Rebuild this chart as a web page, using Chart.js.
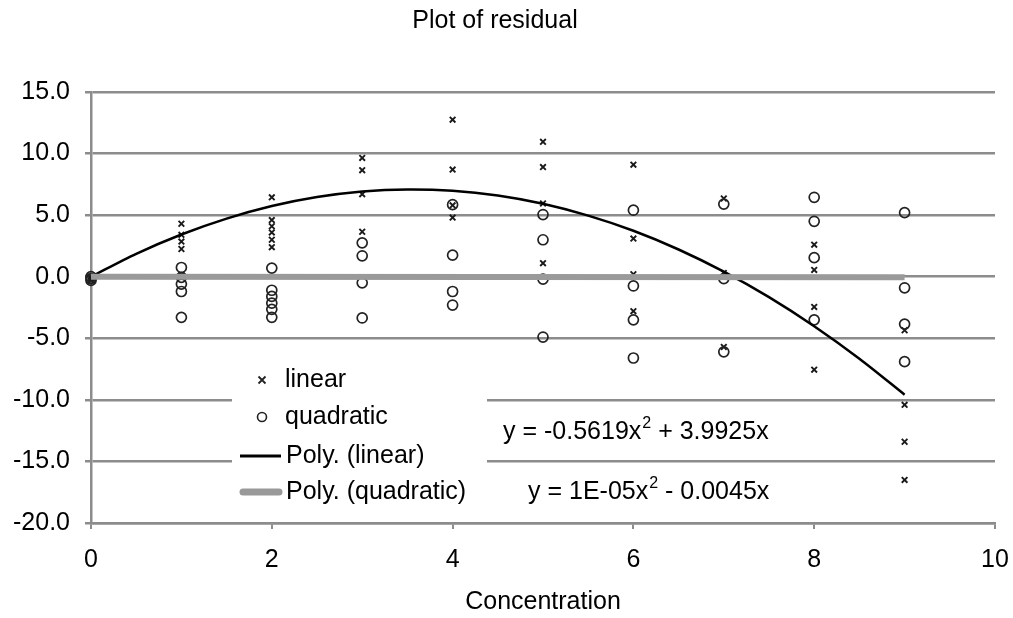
<!DOCTYPE html>
<html>
<head>
<meta charset="utf-8">
<script src="https://cdn.jsdelivr.net/npm/chart.js@4.4.1/dist/chart.umd.min.js"></script>
<style>
html,body{margin:0;padding:0;background:#fff;}
#c{display:block;}
</style>
</head>
<body>
<canvas id="c" width="1013" height="618"></canvas>
<script>
// ---- data ----
const chartTitle = "Plot of residual";
const xAxisTitle = "Concentration";
const yTicks = [-20, -15, -10, -5, 0, 5, 10, 15];
const xTicks = [0, 2, 4, 6, 8, 10];

const linearX = [0,0,0, 1,1,1,1,1, 2,2,2,2,2,2, 3,3,3,3, 4,4,4,4, 5,5,5,5, 6,6,6,6, 7,7,7, 8,8,8,8, 9,9,9,9];
const linearY = [0,-0.15,-0.3, 4.3,3.4,2.85,2.25,0.15, 6.45,4.6,4.1,3.6,3.0,2.4, 9.65,8.65,6.7,3.65, 12.75,8.7,5.8,4.8, 10.95,8.9,5.95,1.1, 9.1,3.1,0.2,-2.8, 6.35,0.3,-5.7, 2.6,0.55,-2.45,-7.55, -4.35,-10.4,-13.4,-16.5];

const quadX = [0,0,0, 1,1,1,1,1, 2,2,2,2,2,2, 3,3,3,3, 4,4,4,4, 5,5,5,5, 6,6,6,6, 7,7,7, 8,8,8,8, 9,9,9,9];
const quadY = [0,-0.15,-0.3, 0.75,-0.05,-0.6,-1.2,-3.3, 0.7,-1.1,-1.6,-2.15,-2.65,-3.3, 2.75,1.7,-0.5,-3.35, 5.85,1.75,-1.2,-2.3, 5.05,3.0,-0.2,-4.9, 5.4,-0.75,-3.5,-6.6, 5.9,-0.15,-6.1, 6.45,4.5,1.55,-3.5, 5.2,-0.9,-3.85,-6.9];

// trend curves as traced on the picture
const linTrendX = [0,0.5,1,1.5,2,2.5,3,3.5,4,4.5,5,5.5,6,6.5,7,7.5,8,8.5,9];
const linTrendY = [0,1.86,3.43,4.72,5.74,6.47,6.92,7.09,6.98,6.59,5.92,4.96,3.73,2.21,0.41,-1.66,-4.02,-6.66,-9.58];
const quadTrendX = [0,9];
const quadTrendY = [0,-0.04];

const seriesNames = ["linear","quadratic","Poly. (linear)","Poly. (quadratic)"];
const eqLinear = ["y = -0.5619x", "2", " + 3.9925x"];
const eqQuad = ["y = 1E-05x", "2", " - 0.0045x"];

// ---- build ----
const zip = (xs, ys) => xs.map((x, i) => ({x: x, y: ys[i]}));
const FONT = "'Liberation Sans', Arial, sans-serif";
const FS = 25;
const GRID = '#8c8c8c';

const overlay = {
  id: 'overlay',
  afterDraw(chart) {
    const ctx = chart.ctx;
    ctx.save();
    ctx.fillStyle = '#000';
    ctx.font = FS + 'px ' + FONT;
    ctx.textBaseline = 'middle';
    ctx.textAlign = 'center';
    ctx.fillText(chartTitle, 495, 21);

    // legend box
    ctx.fillStyle = '#fff';
    ctx.fillRect(232, 364, 255, 150);
    ctx.fillStyle = '#000';
    ctx.textAlign = 'left';
    const rows = [380, 417, 456, 492];
    ctx.strokeStyle = '#222'; ctx.lineWidth = 1.8;
    const cx = 262;
    ctx.beginPath();
    ctx.moveTo(cx-3.5, rows[0]-3.5); ctx.lineTo(cx+3.5, rows[0]+3.5);
    ctx.moveTo(cx+3.5, rows[0]-3.5); ctx.lineTo(cx-3.5, rows[0]+3.5);
    ctx.stroke();
    ctx.lineWidth = 1.6;
    ctx.beginPath(); ctx.arc(cx, rows[1], 4.5, 0, Math.PI*2); ctx.stroke();
    ctx.strokeStyle = '#000'; ctx.lineWidth = 3;
    ctx.beginPath(); ctx.moveTo(240, rows[2]); ctx.lineTo(281, rows[2]); ctx.stroke();
    ctx.strokeStyle = '#999'; ctx.lineWidth = 7; ctx.lineCap = 'round';
    ctx.beginPath(); ctx.moveTo(243, rows[3]); ctx.lineTo(279, rows[3]); ctx.stroke();
    ctx.lineCap = 'butt';
    ctx.fillText(seriesNames[0], 285, rows[0]);
    ctx.fillText(seriesNames[1], 285, rows[1]);
    ctx.fillText(seriesNames[2], 286, rows[2]);
    ctx.fillText(seriesNames[3], 286, rows[3]);

    // equations
    function eq(parts, x, y) {
      ctx.font = FS + 'px ' + FONT;
      ctx.fillText(parts[0], x, y);
      let w = ctx.measureText(parts[0]).width;
      ctx.font = Math.round(FS*0.62) + 'px ' + FONT;
      ctx.fillText(parts[1], x + w + 1, y - 8);
      w += ctx.measureText(parts[1]).width + 1;
      ctx.font = FS + 'px ' + FONT;
      ctx.fillText(parts[2], x + w, y);
    }
    eq(eqLinear, 503, 432);
    eq(eqQuad, 528, 492);
    ctx.restore();
  }
};

new Chart(document.getElementById('c'), {
  type: 'scatter',
  data: {
    datasets: [
      {label: seriesNames[0], data: zip(linearX, linearY), pointStyle: 'crossRot', pointRadius: 4,
       borderColor: '#1a1a1a', backgroundColor: '#1a1a1a', borderWidth: 1.9, order: 3, clip: false},
      {label: seriesNames[1], data: zip(quadX, quadY), pointStyle: 'circle', pointRadius: 5,
       borderColor: '#222', backgroundColor: 'rgba(0,0,0,0)', borderWidth: 1.7, order: 2, clip: false},
      {label: seriesNames[2], data: zip(linTrendX, linTrendY), type: 'line', showLine: true,
       borderColor: '#000', borderWidth: 2.5, pointRadius: 0, tension: 0.3, fill: false, order: 1},
      {label: seriesNames[3], data: zip(quadTrendX, quadTrendY), type: 'line', showLine: true,
       borderColor: '#9a9a9a', borderWidth: 6, pointRadius: 0, tension: 0, fill: false, order: 0}
    ]
  },
  options: {
    responsive: false,
    animation: false,
    devicePixelRatio: 1,
    layout: {padding: {left: 0, right: 18, top: 92, bottom: 0}},
    plugins: {legend: {display: false}, title: {display: false}, tooltip: {enabled: false}},
    scales: {
      x: {
        type: 'linear', min: 0, max: 10,
        afterBuildTicks(s) { s.ticks = xTicks.map(v => ({value: v})); },
        afterFit(s) { s.height = 95; s.paddingLeft = 0; s.paddingRight = 0; },
        ticks: {color: '#000', font: {family: FONT, size: FS}, padding: 16, maxRotation: 0},
        grid: {drawOnChartArea: false, drawTicks: true, tickLength: 6, color: GRID, lineWidth: 2},
        border: {display: true, color: GRID, width: 2.5},
        title: {display: true, text: xAxisTitle, color: '#000', font: {family: FONT, size: FS}, padding: {top: 0, bottom: 1}}
      },
      y: {
        type: 'linear', min: -20, max: 15,
        afterBuildTicks(s) { s.ticks = yTicks.map(v => ({value: v})); },
        afterFit(s) { s.width = 91; s.paddingTop = 0; s.paddingBottom = 0; },
        ticks: {color: '#000', font: {family: FONT, size: FS}, padding: 15, callback: v => Number(v).toFixed(1)},
        grid: {drawTicks: true, tickLength: 6, color: GRID, lineWidth: 2.5},
        border: {display: true, color: GRID, width: 2.5}
      }
    }
  },
  plugins: [overlay]
});
</script>
</body>
</html>
